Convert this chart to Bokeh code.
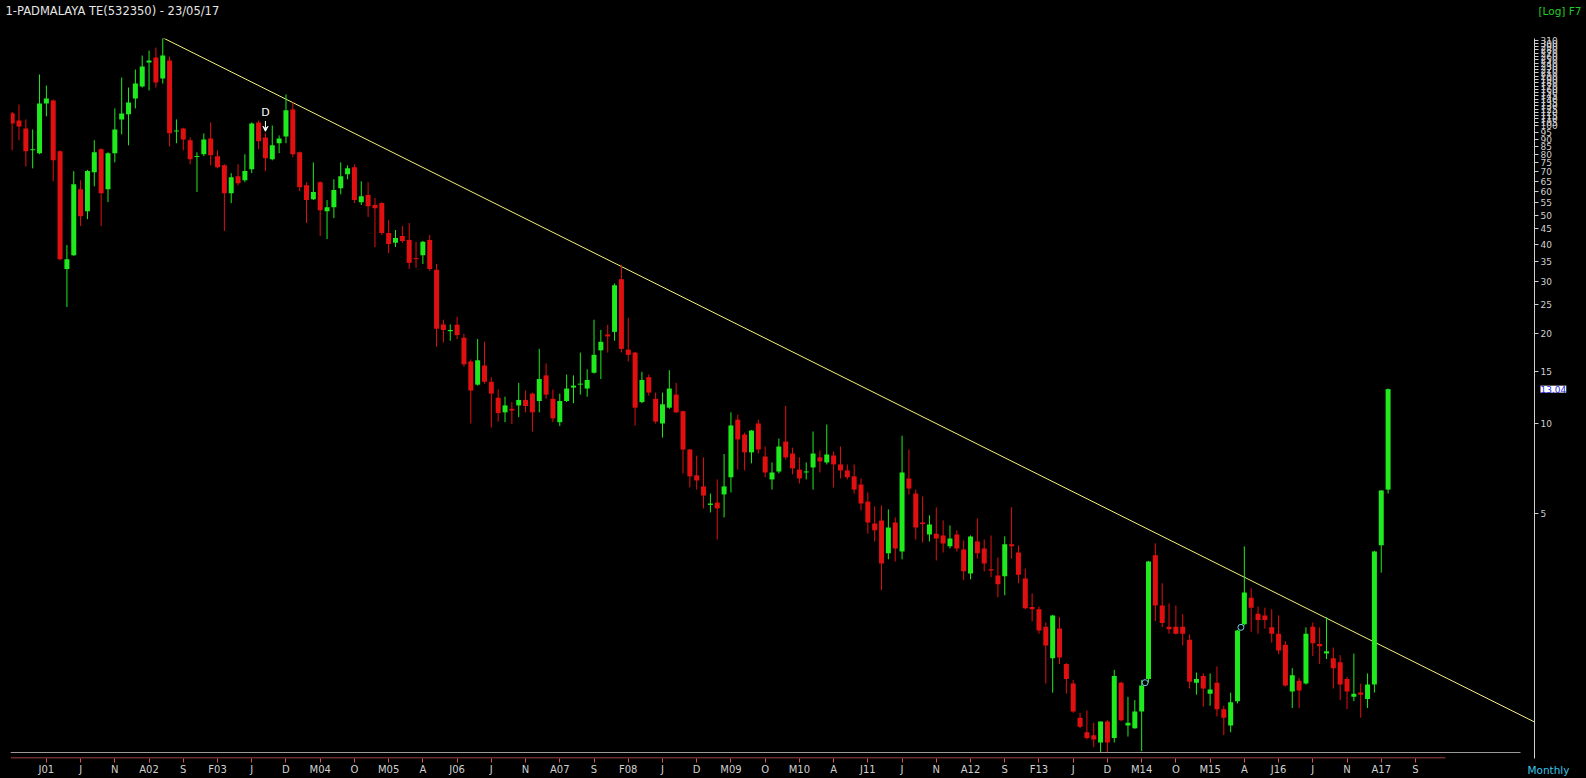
import numpy as np
from bokeh.plotting import figure
from bokeh.models import (Range1d, FixedTicker, CustomJSTickFormatter, Label,
                          Arrow, VeeHead, ColumnDataSource)
from bokeh.embed import file_html
from bokeh.resources import INLINE

# ---------------- data (monthly OHLC, months counted from Jan 2001 = 0) ----------------
first_month_index = -5  # Aug 2000

opens = [
    110, 104, 97.8, 82.6, 80.7, 118.6, 121.4, 82.0, 33.0, 36.7,
    61.1, 51.6, 69.7, 83.2, 61.1, 80.7, 104.8, 109.0, 123.2, 135.2,
    162.7, 169.1, 143.8, 165.2, 95.5, 97.8, 89.2, 78.4, 80.1, 90.5,
    78.9, 73.5, 59.3, 67.6, 65.5, 71.3, 102.4, 91.2, 77.0, 87.2,
    91.9, 113.2, 81.3, 63.0, 56.6, 64.5, 51.6, 53.2, 61.6, 68.6,
    72.4, 55.3, 58.4, 54.1, 54.9, 43.6, 40.4, 42.6, 41.3, 35.9,
    36.7, 41.3, 32.8, 21.5, 20.4, 21.45, 19.4, 16.15, 13.5, 15.65,
    13.8, 12.2, 10.9, 11.2, 11.5, 12.0, 12.6, 11.9, 14.5, 12.1,
    10.1, 11.9, 13.2, 13.5, 13.1, 14.8, 17.6, 19.9, 20.3, 30.5,
    17.7, 17.3, 11.8, 14.3, 12.1, 10.0, 11.3, 12.5, 11.0, 8.18,
    6.7, 6.15, 5.33, 5.43, 5.78, 6.6, 10.3, 9.18, 8.0, 10.0,
    7.75, 6.49, 6.9, 8.7, 7.93, 7.0, 6.85, 7.12, 7.7, 7.4,
    7.81, 7.29, 6.96, 6.65, 6.24, 5.47, 4.62, 4.73, 3.67, 4.65,
    3.72, 6.54, 5.82, 4.65, 4.24, 4.27, 4.21, 3.87, 4.24, 3.78,
    3.14, 4.02, 3.81, 3.24, 3.09, 3.07, 3.93, 3.69, 3.02, 2.42,
    2.38, 2.08, 1.63, 2.05, 1.56, 1.34, 1.03, 0.92, 0.9, 0.85,
    1.0, 0.88, 1.35, 0.97, 0.95, 1.08, 1.39, 3.61, 2.45, 2.08,
    2.08, 2.08, 1.88, 1.35, 1.42, 1.24, 1.35, 1.1, 0.97, 1.17,
    2.12, 2.6, 2.3, 2.27, 2.07, 1.97, 1.81, 1.26, 1.37, 1.34,
    2.08, 1.82, 1.69, 1.63, 1.58, 1.39, 1.21, 1.25, 1.19, 1.33,
    3.9, 6.0,
]
highs = [
    111, 117.7, 104.8, 97.0, 148.3, 136.2, 122.3, 82.5, 39.7, 70.3,
    65.5, 71.0, 89.2, 83.9, 81.3, 114.1, 144.9, 134.1, 154.1, 171.7,
    178.5, 182.6, 197, 170.4, 104.8, 98.3, 91.2, 81.3, 94.1, 102.4,
    82.6, 74.1, 69.2, 74.1, 80.1, 102.4, 104, 94.1, 100.0, 92.6,
    127.1, 119.5, 81.8, 64.5, 75.2, 65.0, 56.2, 66.0, 75.2, 73.5,
    74.1, 65.0, 64.5, 57.1, 55.3, 48.2, 44.6, 46.0, 47.1, 40.7,
    41.0, 42.9, 34.3, 22.3, 21.5, 22.8, 20.0, 16.4, 19.2, 18.8,
    14.3, 13.0, 12.3, 11.8, 13.7, 12.9, 12.7, 17.8, 15.9, 13.0,
    12.6, 14.6, 14.5, 17.3, 15.2, 22.3, 20.6, 21.45, 29.5, 34.0,
    22.6, 17.4, 14.9, 14.6, 12.7, 12.7, 15.1, 13.7, 11.05, 8.2,
    7.8, 7.7, 5.82, 6.49, 7.9, 10.9, 10.7, 9.32, 9.5, 10.3,
    8.37, 7.4, 8.9, 11.45, 8.3, 7.7, 7.4, 9.4, 8.12, 9.92,
    8.06, 8.37, 7.29, 7.29, 6.54, 5.87, 5.27, 5.31, 5.15, 4.84,
    9.1, 8.18, 6.0, 5.69, 4.92, 5.23, 4.73, 4.55, 4.38, 4.05,
    4.21, 4.8, 4.08, 4.21, 3.55, 4.18, 5.23, 3.9, 3.26, 2.69,
    2.43, 2.15, 2.28, 2.24, 1.57, 1.38, 1.07, 1.09, 0.99, 1.0,
    1.01, 1.49, 1.36, 1.21, 1.18, 1.38, 3.46, 3.96, 2.91, 2.49,
    2.45, 2.29, 1.96, 1.46, 1.45, 1.45, 1.53, 1.13, 1.25, 2.03,
    3.87, 2.8, 2.43, 2.41, 2.38, 2.27, 1.86, 1.51, 1.4, 2.07,
    2.15, 2.07, 2.24, 1.77, 1.67, 1.41, 1.69, 1.34, 1.45, 3.74,
    5.98, 13.1,
]
lows = [
    82.6, 89.2, 72.9, 71.8, 80.1, 107.3, 65.0, 35.3, 24.6, 36.5,
    46.0, 48.5, 62.5, 46.0, 55.3, 75.2, 93.4, 85.8, 114.1, 134.1,
    131.1, 134.1, 138.3, 85.1, 87.2, 82.6, 74.1, 59.8, 78.9, 73.5,
    71.8, 44.3, 54.9, 63.0, 64.5, 69.2, 83.2, 70.3, 76.4, 80.7,
    87.2, 78.3, 60.2, 47.1, 56.2, 42.6, 41.6, 48.9, 58.8, 66.0,
    54.9, 54.1, 49.3, 39.1, 42.9, 37.3, 39.1, 40.4, 33.0, 33.3,
    34.3, 32.5, 18.1, 18.7, 18.95, 19.2, 15.5, 10.0, 13.4, 13.6,
    9.7, 10.15, 10.1, 9.95, 10.5, 10.9, 9.4, 10.9, 12.1, 10.1,
    9.8, 11.8, 11.7, 12.5, 12.3, 14.7, 14.1, 17.3, 18.95, 17.3,
    16.15, 9.85, 11.7, 12.4, 10.0, 8.97, 11.2, 10.85, 6.80, 6.10,
    6.0, 5.19, 5.03, 4.08, 4.84, 5.87, 7.0, 6.96, 7.35, 7.93,
    6.6, 6.0, 6.8, 7.57, 6.75, 6.29, 6.49, 6.0, 6.85, 7.29,
    6.1, 6.54, 6.49, 5.82, 5.11, 4.27, 4.02, 2.76, 3.5, 3.44,
    3.5, 5.78, 4.08, 3.99, 4.02, 3.47, 3.69, 3.81, 3.72, 2.98,
    3.0, 3.52, 3.19, 3.05, 2.61, 2.65, 3.52, 2.91, 2.38, 2.17,
    1.97, 1.34, 1.25, 1.56, 1.24, 1.07, 0.95, 0.87, 0.82, 0.79,
    0.79, 0.85, 1.0, 0.89, 0.945, 0.795, 1.35, 2.17, 2.07, 1.97,
    1.96, 1.8, 1.29, 1.23, 1.12, 1.13, 1.04, 0.9, 0.92, 1.15,
    2.1, 2.0, 1.97, 2.05, 1.84, 1.68, 1.31, 1.11, 1.11, 1.33,
    1.66, 1.56, 1.62, 1.29, 1.18, 1.1, 1.17, 1.03, 1.11, 1.25,
    3.16, 5.82,
]
closes = [
    101.6, 99.3, 82.0, 83.2, 118.6, 123.2, 76.4, 35.6, 35.6, 63.5,
    49.6, 70.3, 81.3, 59.3, 80.7, 97.0, 109.8, 119.5, 138.3, 157.7,
    165.2, 139.4, 171.7, 94.1, 96.3, 89.8, 77.0, 78.9, 89.8, 79.5,
    72.4, 59.3, 67.1, 64.0, 70.3, 101.6, 88.5, 77.6, 85.8, 90.5,
    112.4, 80.1, 62.0, 56.2, 59.8, 52.0, 53.2, 60.7, 67.6, 71.8,
    56.2, 57.9, 53.6, 52.8, 43.6, 40.0, 41.9, 41.0, 34.6, 35.6,
    40.7, 33.0, 20.8, 20.6, 20.6, 19.8, 15.8, 12.9, 16.3, 13.8,
    12.6, 10.85, 11.5, 11.05, 12.0, 11.45, 10.9, 14.1, 12.5, 10.4,
    11.9, 13.1, 13.4, 13.6, 14.0, 17.0, 18.8, 19.6, 29.1, 17.8,
    17.0, 11.3, 14.0, 12.7, 10.15, 11.6, 13.1, 10.9, 8.18, 6.65,
    6.44, 5.73, 5.39, 5.19, 6.15, 9.85, 8.84, 8.0, 9.47, 8.18,
    6.85, 6.85, 8.37, 7.7, 7.07, 6.54, 6.9, 7.93, 7.46, 7.87,
    7.29, 6.96, 6.6, 6.0, 5.39, 4.65, 4.38, 3.39, 4.48, 3.81,
    6.85, 6.05, 4.48, 4.6, 4.58, 4.11, 3.96, 4.11, 3.81, 3.19,
    4.18, 3.67, 3.39, 3.21, 2.89, 3.93, 3.87, 3.11, 2.4, 2.38,
    2.02, 1.8, 2.27, 1.64, 1.39, 1.08, 0.96, 0.88, 0.87, 1.0,
    0.85, 1.42, 1.01, 0.99, 1.08, 1.32, 3.44, 2.45, 2.14, 2.04,
    1.97, 1.97, 1.36, 1.39, 1.29, 1.28, 1.1, 1.03, 1.16, 2.02,
    2.71, 2.41, 2.19, 2.19, 1.97, 1.73, 1.32, 1.43, 1.27, 1.97,
    1.83, 1.79, 1.72, 1.51, 1.33, 1.26, 1.24, 1.23, 1.33, 3.72,
    5.96, 13.04,
]

month_tick_labels = ["J01", "J", "N", "A02", "S", "F03", "J", "D", "M04", "O",
                     "M05", "A", "J06", "J", "N", "A07", "S", "F08", "J", "D",
                     "M09", "O", "M10", "A", "J11", "J", "N", "A12", "S", "F13",
                     "J", "D", "M14", "O", "M15", "A", "J16", "J", "N", "A17", "S"]
month_tick_step = 5

price_tick_values = [5, 10, 15, 20, 25, 30, 35, 40, 45, 50, 55, 60, 65, 70, 75,
                     80, 85, 90, 95, 100]
upper_tick_labels = ["105", "110", "115", "120", "125", "130", "135", "140", "145",
                     "150", "160", "170", "180", "190", "200", "210", "220", "230",
                     "240", "250", "260", "270", "280", "290", "300", "310"]

trend_months = [17, 217.4]
trend_prices = [197.0, 0.996]

signal_month = 32
signal_text = "D"
marker_months = [160.5, 174.5]
marker_prices = [1.35, 2.07]
last_close = 13.04

title_text = "1-PADMALAYA TE(532350) - 23/05/17"
scale_text = "[Log] F7"
period_text = "Monthly"

# ---------------- layout geometry (pixels) ----------------
W, H = 1586, 778
FRAME_L, FRAME_R, FRAME_T, FRAME_B = 10, 1535, 38, 758
PX_JAN01, PX_PER_MONTH = 45.9, 6.85     # x pixel of Jan 2001, pixels per month
PY_10, PX_PER_DECADE = 423.0, 298.0     # y pixel of price 10, pixels per decade


def xm(px):   # pixel column -> month index
    return (px - PX_JAN01) / PX_PER_MONTH


def yp(py):   # pixel row -> price
    return 10 ** (1 + (PY_10 - py) / PX_PER_DECADE)


UP = "#1eea1e"
DOWN = "#e01010"
BG = "#000000"
AXIS_TXT = "#cfcfcf"
FONT = "DejaVu Sans"

n = min(len(opens), len(highs), len(lows), len(closes))
months = [first_month_index + i for i in range(n)]
o = np.array(opens[:n], float)
h = np.array(highs[:n], float)
l = np.array(lows[:n], float)
c = np.array(closes[:n], float)
up = c >= o
top = np.maximum(o, c)
bot = np.minimum(o, c)
top = np.maximum(top, bot * 1.008)  # keep dojis visible (about 1px)
colors = [UP if u else DOWN for u in up]

src = ColumnDataSource(dict(x=months, top=top, bottom=bot, high=h, low=l, color=colors))

x_lo, x_hi = xm(FRAME_L), xm(FRAME_R)
y_lo, y_hi = yp(FRAME_B), yp(FRAME_T)

p = figure(width=W, height=H, output_backend="svg", toolbar_location=None,
           y_axis_type="log", y_axis_location="right",
           x_range=Range1d(x_lo, x_hi), y_range=Range1d(y_lo, y_hi),
           min_border_left=FRAME_L, min_border_right=W - FRAME_R,
           min_border_top=FRAME_T, min_border_bottom=H - FRAME_B,
           background_fill_color=BG, border_fill_color=BG, outline_line_color=None)
p.grid.visible = False

# bottom decoration lines (grey frame line and red axis line)
p.segment(x0=[x_lo], y0=[yp(FRAME_B - 6)], x1=[xm(1521)], y1=[yp(FRAME_B - 6)],
          line_color="#9a9a9a", line_width=1)
p.segment(x0=[x_lo], y0=[yp(FRAME_B - 0.5)], x1=[xm(1446)], y1=[yp(FRAME_B - 0.5)],
          line_color="#d85858", line_width=1)

# trend line
p.line(trend_months, trend_prices, line_color="#f2f27a", line_width=1)

# candles
p.segment(x0="x", y0="high", x1="x", y1="low", line_color="color", line_width=1, source=src)
p.vbar(x="x", width=0.73, top="top", bottom="bottom", fill_color="color",
       line_color=None, source=src)

# small cyan markers
p.scatter(marker_months, marker_prices, marker="circle", size=6, fill_color=None,
          line_color="#6fcfe8", line_width=1)

# D signal
sig_h = h[months.index(signal_month)]
p.add_layout(Arrow(end=VeeHead(size=5, line_color="white", fill_color="white", line_width=1),
                   x_start=signal_month, y_start=sig_h * 1.10, x_end=signal_month,
                   y_end=sig_h * 1.016, line_color="white", line_width=1))
p.add_layout(Label(x=signal_month, y=sig_h * 1.115, text=signal_text, text_color="white",
                   text_font=FONT, text_font_size="11px", text_align="center",
                   text_baseline="bottom"))

# x axis
xa = p.xaxis[0]
xa.ticker = FixedTicker(ticks=[month_tick_step * i for i in range(len(month_tick_labels))])
xa.formatter = CustomJSTickFormatter(args=dict(labels=month_tick_labels, step=month_tick_step),
    code="const i = Math.round(tick/step); return (i >= 0 && i < labels.length) ? labels[i] : '';")
xa.axis_line_color = None
xa.major_tick_line_color = "#d85858"
xa.major_tick_out = 4
xa.major_tick_in = 0
xa.minor_tick_line_color = None
xa.major_label_standoff = 1
xa.major_label_text_color = AXIS_TXT
xa.major_label_text_font = FONT
xa.major_label_text_font_size = "10px"

# y axis (right, log, with the crowded upper ticks of the original)
upper_top = yp(FRAME_T + 1.5)
upper_pos = [100.0 * (upper_top / 100.0) ** ((k + 1) / len(upper_tick_labels))
             for k in range(len(upper_tick_labels))]
all_pos = [float(v) for v in price_tick_values] + upper_pos
all_lab = [str(v) for v in price_tick_values] + upper_tick_labels
ya = p.yaxis[0]
ya.ticker = FixedTicker(ticks=all_pos)
ya.formatter = CustomJSTickFormatter(args=dict(pos=all_pos, labels=all_lab), code="""
let best = 0;
for (let i = 0; i < pos.length; i++) {
  if (Math.abs(Math.log(pos[i]) - Math.log(tick)) < Math.abs(Math.log(pos[best]) - Math.log(tick))) best = i;
}
return labels[best];
""")
ya.axis_line_color = "#d0d0d0"
ya.major_tick_line_color = "#d0d0d0"
ya.major_tick_out = 4
ya.major_tick_in = 0
ya.minor_tick_line_color = None
ya.major_label_standoff = 2
ya.major_label_text_color = AXIS_TXT
ya.major_label_text_font = FONT
ya.major_label_text_font_size = "9px"

# texts outside the plotting frame: placed in the side panels so they are not clipped,
# positioned with the plot's own scales
p.add_layout(Label(x=xm(1541), y=last_close, text=f"{last_close:.2f}",
                   text_color="#2b2bf0", text_font=FONT, text_font_size="9px",
                   text_baseline="middle", text_align="left",
                   background_fill_color="white"), "right")
p.add_layout(Label(x=xm(5), y=yp(3), text=title_text, text_color="#e6e6e6",
                   text_font=FONT, text_font_size="11.5px", text_baseline="top",
                   text_align="left"), "above")
p.add_layout(Label(x=xm(1582), y=yp(4), text=scale_text, text_color="#22cc22",
                   text_font=FONT, text_font_size="10.5px", text_baseline="top",
                   text_align="right"), "above")
p.add_layout(Label(x=xm(1570), y=yp(769), text=period_text, text_color="#3cc4e4",
                   text_font=FONT, text_font_size="10.5px", text_baseline="middle",
                   text_align="right"), "above")

html = file_html(p, INLINE, title="PADMALAYA TE monthly")
html = html.replace("<head>", "<head><style>html,body{background:#000000;}</style>", 1)
open("out.html", "w").write(html)
